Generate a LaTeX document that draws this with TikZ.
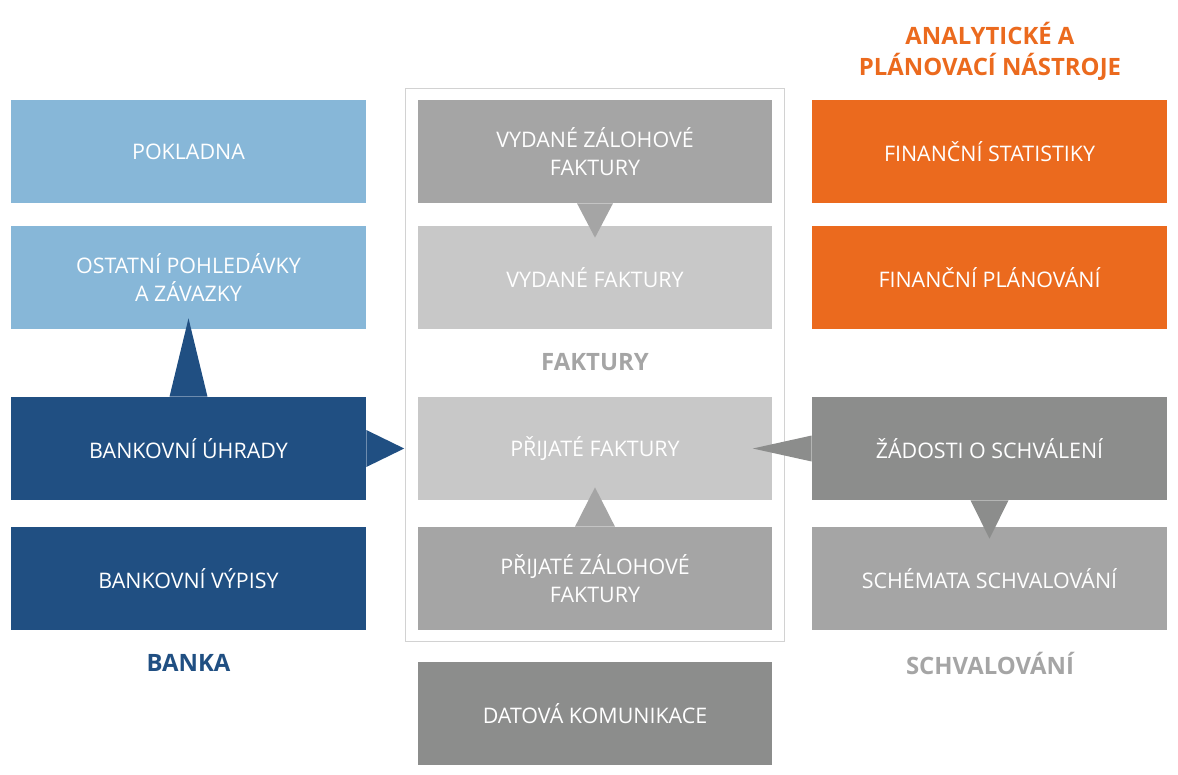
\documentclass[tikz,border=0pt]{standalone}
\usepackage{fontspec}
\setmainfont{Open Sans}
\usetikzlibrary{fit}
\definecolor{colSky}{RGB}{135,183,216}
\definecolor{colBank}{RGB}{32,79,130}
\definecolor{colOrange}{RGB}{235,106,30}
\definecolor{colDark}{RGB}{140,141,140}
\definecolor{colMid}{RGB}{165,165,165}
\definecolor{colPale}{RGB}{200,200,200}
\definecolor{colFrame}{RGB}{210,210,210}

\begin{document}
\begin{tikzpicture}[
    x=0.02cm, y=-0.02cm,
    box/.style={minimum width=7.1cm, minimum height=2.06cm, inner sep=0pt,
                text=white, align=center, font=\fontsize{12.2}{15.9}\selectfont},
    heading/.style={font=\fontsize{13.6}{17.6}\selectfont\bfseries, align=center, inner sep=0pt},
  ]

  \useasboundingbox (0,0) rectangle (1178,775);

  % ---- banka (left column) ----------------------------------------------
  \node[box, fill=colSky]  (pokladna) at (188.5,151.5) {POKLADNA};
  \node[box, fill=colSky]  (ostatni)  at (188.5,277.5) {OSTATNÍ POHLEDÁVKY\\ A ZÁVAZKY};
  \node[box, fill=colBank] (uhrady)   at (188.5,448.5) {BANKOVNÍ ÚHRADY};
  \node[box, fill=colBank] (vypisy)   at (188.5,578.5) {BANKOVNÍ VÝPISY};
  \node[heading, colBank]  (banka)    at (188.5,663)   {BANKA};

  % ---- faktury (middle column) ------------------------------------------
  \node[box, fill=colMid]  (vydzal)  at (595,151.5) {VYDANÉ ZÁLOHOVÉ\\ FAKTURY};
  \node[box, fill=colPale] (vydane)  at (595,277.5) {VYDANÉ FAKTURY};
  \node[heading, colMid]   (faktury) at (595,362)   {FAKTURY};
  \node[box, fill=colPale] (prijate) at (595,448.5) {PŘIJATÉ FAKTURY};
  \node[box, fill=colMid]  (prizal)  at (595,578.5) {PŘIJATÉ ZÁLOHOVÉ\\ FAKTURY};
  \node[draw=colFrame, line width=0.6pt, inner sep=0.23cm, fit=(vydzal)(prizal)] (frame) {};
  \node[box, fill=colDark] (datova)  at (595,713.5) {DATOVÁ KOMUNIKACE};

  % ---- analytika + schvalovani (right column) ---------------------------
  \node[heading, colOrange] (analyt)   at (990,51)    {ANALYTICKÉ A\\ PLÁNOVACÍ NÁSTROJE};
  \node[box, fill=colOrange] (statist) at (989.5,151.5) {FINANČNÍ STATISTIKY};
  \node[box, fill=colOrange] (plan)    at (989.5,277.5) {FINANČNÍ PLÁNOVÁNÍ};
  \node[box, fill=colDark]  (zadosti)  at (989.5,448.5) {ŽÁDOSTI O SCHVÁLENÍ};
  \node[box, fill=colMid]   (schemata) at (989.5,578.5) {SCHÉMATA SCHVALOVÁNÍ};
  \node[heading, colMid]    (schval)   at (990,663)     {SCHVALOVÁNÍ};

  % ---- callout pointers -------------------------------------------------
  \fill[colBank] ([xshift=-0.38cm]uhrady.north) -- ([yshift=0.22cm]ostatni.south)
                 -- ([xshift=0.38cm]uhrady.north) -- cycle;
  \fill[colBank] ([yshift=0.37cm]uhrady.east) -- ([xshift=-0.26cm]prijate.west)
                 -- ([yshift=-0.37cm]uhrady.east) -- cycle;
  \fill[colMid]  ([xshift=-0.36cm]vydzal.south) -- ([yshift=-0.24cm]vydane.north)
                 -- ([xshift=0.36cm]vydzal.south) -- cycle;
  \fill[colMid]  ([xshift=-0.4cm]prizal.north) -- ([yshift=0.26cm]prijate.south)
                 -- ([xshift=0.4cm]prizal.north) -- cycle;
  \fill[colDark] ([yshift=0.26cm]zadosti.west) -- ([xshift=-0.4cm]prijate.east)
                 -- ([yshift=-0.26cm]zadosti.west) -- cycle;
  \fill[colDark] ([xshift=-0.38cm]zadosti.south) -- ([yshift=-0.24cm]schemata.north)
                 -- ([xshift=0.38cm]zadosti.south) -- cycle;

\end{tikzpicture}
\end{document}
